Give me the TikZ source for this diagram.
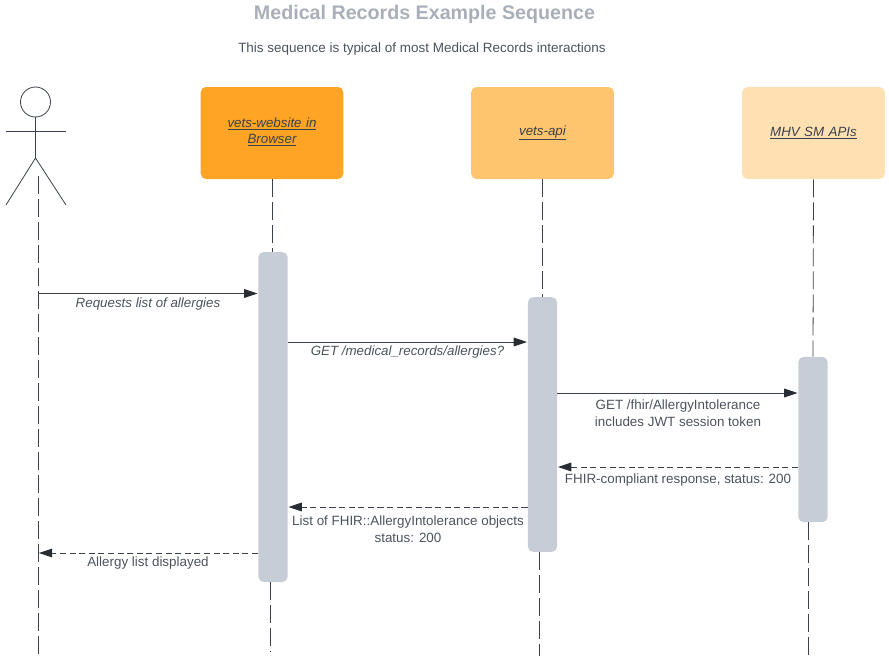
\documentclass[tikz,border=0pt]{standalone}
\usepackage{fontspec}
\setmainfont{Liberation Sans}
\usetikzlibrary{arrows.meta}
\definecolor{inkline}{HTML}{3A414A}
\definecolor{inktip}{HTML}{282C33}
\definecolor{inktext}{HTML}{4C535D}
\definecolor{titlegray}{HTML}{A9AFB9}
\definecolor{barfill}{HTML}{C7CDD6}

\begin{document}
\begin{tikzpicture}[x=0.75pt, y=-0.75pt,
  every node/.style = {align=center, inner sep=0pt, text=inktext, font=\fontsize{10.05}{12.6}\selectfont},
  partbox/.style = {shape=rectangle, rounded corners=4pt, minimum width=107pt, minimum height=69pt,
    text=inkline, font=\fontsize{10}{12.2}\selectfont\itshape, text width=90pt},
  actbar/.style = {shape=rectangle, rounded corners=4pt, fill=barfill, minimum width=22pt},
  lifeline/.style = {draw=inkline, line width=0.6pt, dash pattern=on 13.5pt off 3.75pt},
  stick/.style = {draw=inkline, line width=0.6pt},
  callmsg/.style = {draw=inkline, line width=0.75pt, -{Triangle[length=10pt, width=6.5pt, color=inktip]}, shorten >=0.4pt},
  backmsg/.style = {callmsg, dash pattern=on 4.6pt off 2.6pt}]
  \useasboundingbox (0,0) rectangle (889,664);

  \node (title) at (424.5,14) [text=titlegray, font=\fontsize{14.75}{18}\selectfont\bfseries] {Medical Records Example Sequence};
  \node (subtitle) at (422,49.5) [font=\fontsize{10.1}{12.6}\selectfont] {This sequence is typical of most Medical Records interactions};

  % participants
  \node (browser) at (272,133) [partbox, fill={rgb,255:red,255;green,164;blue,36}] {\underline{vets-website in}\\\underline{Browser}\rule[-3.8pt]{0pt}{3.8pt}};
  \node (api) at (542.5,133) [partbox, fill={rgb,255:red,255;green,197;blue,110}] {\underline{vets-api}};
  \node (mhv) at (813.5,133) [partbox, fill={rgb,255:red,254;green,224;blue,178}] {\underline{MHV SM APIs}};

  % activation bars
  \node (browserbar) at (273,417) [actbar, minimum height=247.5pt] {};
  \node (apibar) at (542.5,424.5) [actbar, minimum height=191pt] {};
  \node (mhvbar) at (813,439.5) [actbar, minimum height=124pt] {};

  % actor
  \node (head) at (35.5,102) [shape=circle, draw=inkline, line width=0.6pt, minimum size=22.5pt] {};
  \coordinate (hip) at (35.5,158);
  \coordinate (armL) at (6,131);
  \coordinate (armR) at (66,131);
  \coordinate (footL) at (6,205);
  \coordinate (footR) at (66,205);
  \draw[stick] (head.south) -- (hip);
  \draw[stick] (armL) -- (armR);
  \draw[stick] (footL) -- (hip) -- (footR);

  % lifelines
  \coordinate (actortop) at (38.3,176);
  \coordinate (actorend) at (38.3,657);
  \coordinate (browsertop) at (272,252);
  \coordinate (browserlow) at (270.5,582);
  \coordinate (browserend) at (270.5,652);
  \coordinate (apilow) at (539.5,552);
  \coordinate (apiend) at (539.5,656);
  \coordinate (mhvlow) at (808.5,522);
  \coordinate (mhvend) at (808.5,656);
  \draw[lifeline] (actortop) -- (actorend);
  \draw[lifeline] (browser.south) -- (browsertop);
  \draw[lifeline] (browserlow) -- (browserend);
  \draw[lifeline] (api.south) -- (apibar.north);
  \draw[lifeline] (apilow) -- (apiend);
  \draw[lifeline] (mhv.south) -- (mhvbar.north);
  \draw[lifeline] (mhvlow) -- (mhvend);

  % messages
  \coordinate (m1) at (38.3,293.5);
  \coordinate (m2) at (0,342);
  \coordinate (m3) at (0,393);
  \coordinate (m4) at (0,467);
  \coordinate (m5) at (0,507);
  \coordinate (m6) at (38.3,553);
  \draw[callmsg] (m1) -- (browserbar.west |- m1);
  \draw[callmsg] (browserbar.east |- m2) -- (apibar.west |- m2);
  \draw[callmsg] (apibar.east |- m3) -- (mhvbar.west |- m3);
  \draw[backmsg] (mhvbar.west |- m4) -- (apibar.east |- m4);
  \draw[backmsg] (apibar.west |- m5) -- (browserbar.east |- m5);
  \draw[backmsg] (browserbar.west |- m6) -- (m6);

  \node (l1) at (148,304) [font=\fontsize{10}{12.6}\selectfont\itshape] {Requests list of allergies};
  \node (l2) at (407.5,352) [font=\fontsize{10}{12.6}\selectfont\itshape] {GET /medical\_records/allergies?};
  \node (l3) at (678,413) {GET /fhir/AllergyIntolerance\\includes JWT session token};
  \node (l4) at (678,480.5) {FHIR-compliant response, status: 200};
  \node (l5) at (408,529) {List of FHIR::AllergyIntolerance objects\\status: 200};
  \node (l6) at (148,563.5) {Allergy list displayed};
\end{tikzpicture}
\end{document}
